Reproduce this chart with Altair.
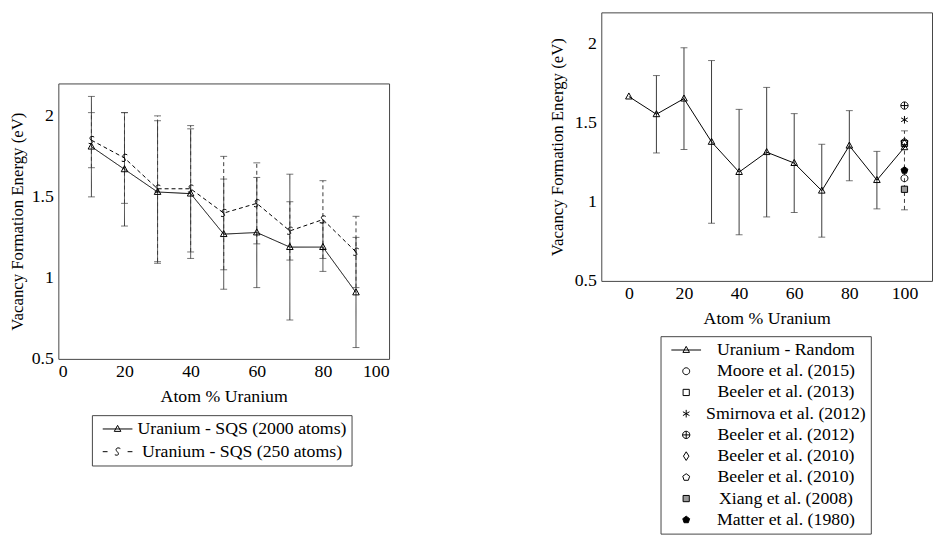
import altair as alt
import pandas as pd
import numpy as np

FONT = "Liberation Serif"
ERRC = "#3a3a3a"
FRAME = "#444444"

# ---------------- data ----------------
x_left = [10, 20, 30, 40, 50, 60, 70, 80, 90]
sqs2000 = [1.81, 1.67, 1.53, 1.52, 1.27, 1.28, 1.19, 1.19, 0.91]
sqs2000_err = [0.31, 0.35, 0.44, 0.40, 0.34, 0.34, 0.45, 0.15, 0.34]
sqs250 = [1.85, 1.74, 1.55, 1.55, 1.40, 1.46, 1.29, 1.36, 1.16]
sqs250_err = [0.17, 0.28, 0.45, 0.39, 0.35, 0.25, 0.18, 0.24, 0.22]

x_right = [0, 10, 20, 30, 40, 50, 60, 70, 80, 90, 100]
random_vals = [1.667, 1.555, 1.654, 1.38, 1.189, 1.315, 1.246, 1.071, 1.356, 1.138, 1.346]
random_err = [0, 0.245, 0.322, 0.515, 0.397, 0.41, 0.313, 0.294, 0.222, 0.182, 0]

ref_keys = ["Moore et al. (2015)", "Beeler et al. (2013)", "Smirnova et al. (2012)",
            "Beeler et al. (2012)", "Beeler et al. (2010) #1", "Beeler et al. (2010) #2",
            "Xiang et al. (2008)", "Matter et al. (1980)"]
ref_x = [100, 100, 100, 100, 100, 100, 100, 100]
ref_vals = [1.15, 1.37, 1.52, 1.61, 1.37, 1.38, 1.08, 1.20]
matter_err = 0.25

xticks = [0, 20, 40, 60, 80, 100]
yticks = [0.5, 1, 1.5, 2]
XTITLE = "Atom % Uranium"
YTITLE = "Vacancy Formation Energy (eV)"
S2000 = "Uranium - SQS (2000 atoms)"
S250 = "Uranium - SQS (250 atoms)"
RAND = "Uranium - Random"

# ---------------- marker shapes (unit coords, size 49 -> 3.5 px/unit) ----------------
def poly(n, r, rot=-90):
    a = np.deg2rad(rot + 360.0 * np.arange(n) / n)
    pts = ["%.3f,%.3f" % (r * np.cos(t), r * np.sin(t)) for t in a]
    return "M" + " L".join(pts) + " Z"

TRI = "M0,-1.05 L0.95,0.7 L-0.95,0.7 Z"
CURL = "M0.8,-0.9 C0.1,-1.4 -0.9,-0.9 -0.2,-0.1 C0.6,0.6 0.3,1.3 -0.8,0.9"
CIRCLE = poly(20, 1.0)
SQUARE = "M-0.9,-0.9 L0.9,-0.9 L0.9,0.9 L-0.9,0.9 Z"
ASTER = "M0,-1.1 L0,1.1 M-0.95,-0.55 L0.95,0.55 M-0.95,0.55 L0.95,-0.55"
OPLUS = poly(20, 1.05) + " M-1.05,0 L1.05,0 M0,-1.05 L0,1.05"
DIAMOND = "M0,-1.25 L0.8,0 L0,1.25 L-0.8,0 Z"
PENT = poly(5, 1.05)
LEG_SOLID = "M-4.3,0 L4.3,0 " + TRI
LEG_DASH = "M-4.3,0 L-2.9,0 M2.9,0 L4.3,0 " + CURL

# ---------------- tables ----------------
rows = []
for s, ys, es in [(S2000, sqs2000, sqs2000_err), (S250, sqs250, sqs250_err)]:
    for x, y, e in zip(x_left, ys, es):
        rows.append(dict(x=x, y=y, lo=y - e, hi=y + e, series=s, entry=s))
left_df = pd.DataFrame(rows)

rand_df = pd.DataFrame({"x": x_right, "y": random_vals, "err": random_err})
rand_df["lo"] = rand_df["y"] - rand_df["err"]
rand_df["hi"] = rand_df["y"] + rand_df["err"]
rand_err_df = rand_df[rand_df["err"] > 0]

ref_df = pd.DataFrame({"x": ref_x, "y": ref_vals, "source": ref_keys})
matter_df = pd.DataFrame({"x": [100], "lo": [ref_vals[-1] - matter_err], "hi": [ref_vals[-1] + matter_err]})


def X(field, dom):
    return alt.X(f"{field}:Q", scale=alt.Scale(domain=dom, nice=False, zero=False),
                 axis=alt.Axis(values=xticks, title=XTITLE, format="d",
                               labelPadding=4, titlePadding=7))


def Y(field, tp):
    return alt.Y(f"{field}:Q", scale=alt.Scale(domain=[0.5, 2.2], nice=False, zero=False),
                 axis=alt.Axis(values=yticks, title=YTITLE, format="~g", titleFontSize=17,
                               labelPadding=5, titlePadding=tp))


LABEL_EXPR = ("indexof(datum.label, ' #') > 0 ? "
              "substring(datum.label, 0, indexof(datum.label, ' #')) : datum.label")


def legend(lx, ly, lo, so, rp):
    return alt.Legend(orient="none", legendX=lx, legendY=ly, title=None, direction="vertical",
                      strokeColor=FRAME, fillColor="white", padding=5,
                      labelFont=FONT, labelFontSize=18, labelColor="black",
                      labelAlign="center", labelOffset=lo, symbolOffset=so,
                      symbolSize=49, symbolStrokeWidth=1, symbolStrokeColor="black",
                      rowPadding=rp, labelLimit=400, labelExpr=LABEL_EXPR)


# ---------------- left panel ----------------
XL = X("x", [0, 100])
# dash scale domain order differs from the legend scale so the hidden dash legend is not merged
dash = alt.StrokeDash("series:N", scale=alt.Scale(domain=[S250, S2000], range=[[4, 3], [1, 0]]),
                      legend=None)
lb = alt.Chart(left_df)
l_rule = lb.mark_rule(color=ERRC, strokeWidth=1).encode(x=XL, y=Y("lo", 5), y2="hi:Q", strokeDash=dash)
l_cap1 = lb.mark_tick(orient="horizontal", size=7, thickness=1, color=ERRC).encode(x=XL, y=Y("lo", 5))
l_cap2 = lb.mark_tick(orient="horizontal", size=7, thickness=1, color=ERRC).encode(x=XL, y=Y("hi", 5))
l_line = lb.mark_line(color="black", strokeWidth=1).encode(x=XL, y=Y("y", 5), strokeDash=dash, order="x:Q")
l_p1 = lb.transform_filter(alt.datum.series == S2000).mark_point(
    shape=TRI, size=49, filled=False, color="black", strokeWidth=1, opacity=1).encode(x=XL, y=Y("y", 5))
l_p2 = lb.transform_filter(alt.datum.series == S250).mark_point(
    shape=CURL, size=49, filled=False, color="black", strokeWidth=1, opacity=1).encode(x=XL, y=Y("y", 5))
lleg = legend(34, 336, 117, 12, 5)
l_leg = lb.transform_filter("false").mark_point(
    size=49, filled=False, color="black", strokeWidth=1, opacity=1).encode(
    x=XL, y=Y("y", 5),
    shape=alt.Shape("entry:N", scale=alt.Scale(domain=[S2000, S250], range=[LEG_SOLID, LEG_DASH]),
                    legend=lleg),
    stroke=alt.Stroke("entry:N", scale=alt.Scale(domain=[S2000, S250], range=["black", "black"]),
                      legend=lleg))
left_plot = alt.layer(l_rule, l_cap1, l_cap2, l_line, l_p1, l_p2, l_leg).properties(width=335, height=279)

spacer = alt.Chart(pd.DataFrame({"a": [0]})).mark_point(opacity=0).properties(
    width=335, height=70, view=alt.ViewBackground(stroke="transparent"))
left = alt.vconcat(spacer, left_plot, spacing=0).resolve_scale(
    shape="independent", strokeDash="independent", stroke="independent"
).resolve_legend(shape="independent", stroke="independent")

# ---------------- right panel ----------------
XR = X("x", [-10, 110])
r_rule = alt.Chart(rand_err_df).mark_rule(color=ERRC, strokeWidth=1).encode(x=XR, y=Y("lo", 8), y2="hi:Q")
r_cap1 = alt.Chart(rand_err_df).mark_tick(orient="horizontal", size=7, thickness=1, color=ERRC).encode(x=XR, y=Y("lo", 8))
r_cap2 = alt.Chart(rand_err_df).mark_tick(orient="horizontal", size=7, thickness=1, color=ERRC).encode(x=XR, y=Y("hi", 8))
m_rule = alt.Chart(matter_df).mark_rule(color=ERRC, strokeWidth=1, strokeDash=[4, 3]).encode(x=XR, y=Y("lo", 8), y2="hi:Q")
m_cap1 = alt.Chart(matter_df).mark_tick(orient="horizontal", size=7, thickness=1, color=ERRC).encode(x=XR, y=Y("lo", 8))
m_cap2 = alt.Chart(matter_df).mark_tick(orient="horizontal", size=7, thickness=1, color=ERRC).encode(x=XR, y=Y("hi", 8))
r_line = alt.Chart(rand_df).mark_line(color="black", strokeWidth=1).encode(x=XR, y=Y("y", 8), order="x:Q")
r_pts = alt.Chart(rand_df).mark_point(shape=TRI, size=49, filled=False, color="black",
                                      strokeWidth=1, opacity=1).encode(x=XR, y=Y("y", 8))
dom = [RAND] + ref_keys
shape_rng = [LEG_SOLID, CIRCLE, SQUARE, ASTER, OPLUS, DIAMOND, PENT, SQUARE, PENT]
fill_rng = ["transparent"] * 7 + ["#9a9a9a", "black"]
rleg = legend(60, 328, 92, 12, 3.5)
r_refs = alt.Chart(ref_df).mark_point(filled=False, size=49, color="black",
                                      strokeWidth=1, opacity=1).encode(
    x=XR, y=Y("y", 8),
    shape=alt.Shape("source:N", scale=alt.Scale(domain=dom, range=shape_rng), legend=rleg),
    fill=alt.Fill("source:N", scale=alt.Scale(domain=dom, range=fill_rng), legend=rleg),
    stroke=alt.Stroke("source:N", scale=alt.Scale(domain=dom, range=["black"] * 9), legend=rleg))
right = alt.layer(r_rule, r_cap1, r_cap2, m_rule, m_cap1, m_cap2, r_line, r_pts, r_refs).properties(
    width=335, height=272)

chart = alt.hconcat(left, right, spacing=160).resolve_scale(
    shape="independent", fill="independent", stroke="independent", strokeDash="independent"
).resolve_legend(shape="independent", fill="independent", stroke="independent").properties(
    padding={"left": 0, "top": 0, "right": 0, "bottom": 0}
).configure_view(stroke=FRAME, strokeWidth=1).configure_axis(
    domain=False, ticks=False, grid=False,
    labelFont=FONT, labelFontSize=18, labelColor="black",
    titleFont=FONT, titleFontSize=18, titleFontWeight="normal", titleColor="black"
).configure_legend(labelFont=FONT)

chart.save("out.html", embed_options={"renderer": "svg", "actions": False})
